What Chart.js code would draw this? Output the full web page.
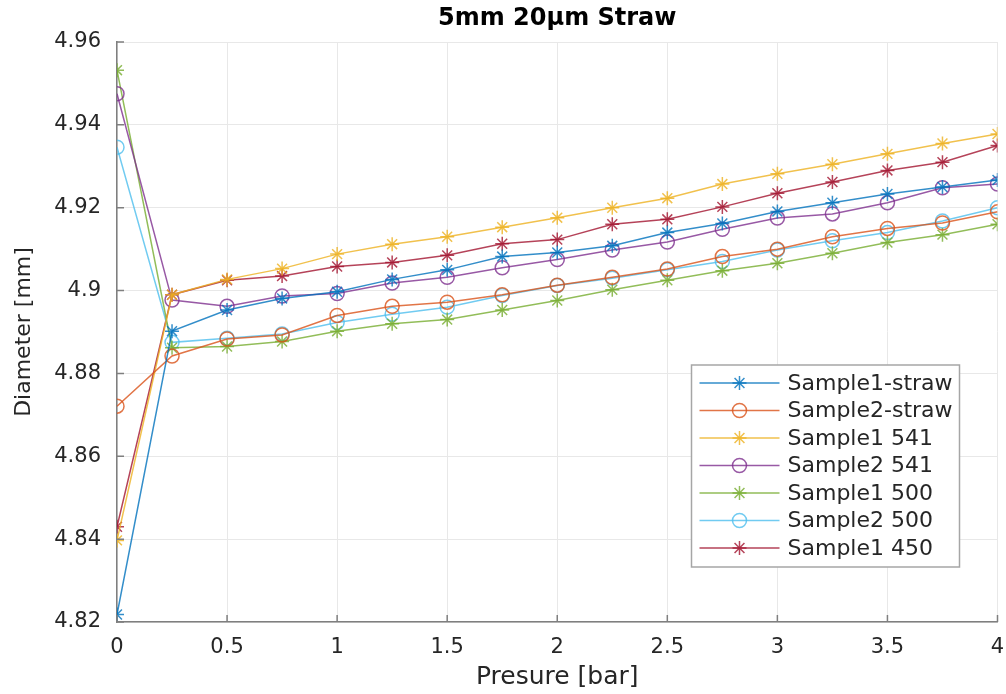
<!DOCTYPE html>
<html>
<head>
<meta charset="utf-8">
<script src="https://cdn.jsdelivr.net/npm/chart.js@4.4.1/dist/chart.umd.min.js"></script>
<style>
html,body{margin:0;padding:0;background:#fff;}
#wrap{width:1006px;height:694px;position:relative;}
</style>
</head>
<body>
<div id="wrap"><canvas id="c" width="1006" height="694"></canvas></div>
<script>
const chartTitle = '5mm 20µm Straw';
const xAxisTitle = 'Presure [bar]';
const yAxisTitle = 'Diameter [mm]';

const pressures = [0, 0.25, 0.5, 0.75, 1, 1.25, 1.5, 1.75, 2, 2.25, 2.5, 2.75, 3, 3.25, 3.5, 3.75, 4];
const xTickValues = [0, 0.5, 1, 1.5, 2, 2.5, 3, 3.5, 4];
const yTickValues = [4.82, 4.84, 4.86, 4.88, 4.9, 4.92, 4.94, 4.96];

const seriesNames = ['Sample1-straw', 'Sample2-straw', 'Sample1 541', 'Sample2 541', 'Sample1 500', 'Sample2 500', 'Sample1 450'];

const sample1Straw = [4.8218, 4.8902, 4.8953, 4.8981, 4.8997, 4.9027, 4.9050, 4.9082, 4.9092, 4.9108, 4.9140, 4.9162, 4.9191, 4.9212, 4.9233, 4.9250, 4.9267];
const sample2Straw = [4.8721, 4.8842, 4.8883, 4.8893, 4.8940, 4.8962, 4.8972, 4.8990, 4.9013, 4.9032, 4.9052, 4.9082, 4.9100, 4.9130, 4.9150, 4.9163, 4.9190];
const sample1_541 = [4.8397, 4.8990, 4.9027, 4.9053, 4.9088, 4.9112, 4.9130, 4.9153, 4.9176, 4.9200, 4.9223, 4.9257, 4.9282, 4.9305, 4.9330, 4.9355, 4.9378];
const sample2_541 = [4.9475, 4.8977, 4.8962, 4.8987, 4.8993, 4.9018, 4.9032, 4.9055, 4.9075, 4.9098, 4.9117, 4.9148, 4.9175, 4.9185, 4.9212, 4.9248, 4.9257];
const sample1_500 = [4.9532, 4.8862, 4.8865, 4.8877, 4.8902, 4.8920, 4.8930, 4.8953, 4.8976, 4.9002, 4.9025, 4.9048, 4.9066, 4.9090, 4.9116, 4.9135, 4.9160];
const sample2_500 = [4.9346, 4.8875, 4.8885, 4.8895, 4.8923, 4.8943, 4.8960, 4.8988, 4.9012, 4.9030, 4.9050, 4.9070, 4.9098, 4.9120, 4.9140, 4.9168, 4.9200];
const sample1_450 = [4.8430, 4.8990, 4.9025, 4.9035, 4.9058, 4.9068, 4.9085, 4.9113, 4.9123, 4.9160, 4.9172, 4.9202, 4.9235, 4.9262, 4.9290, 4.9310, 4.9350];

const seriesValues = [sample1Straw, sample2Straw, sample1_541, sample2_541, sample1_500, sample2_500, sample1_450];
const seriesColors = ['rgba(0,114,189,0.8)', 'rgba(217,83,25,0.8)', 'rgba(237,177,32,0.8)', 'rgba(126,47,142,0.8)', 'rgba(119,172,48,0.8)', 'rgba(77,190,238,0.8)', 'rgba(162,20,47,0.8)'];
const seriesMarkers = ['star', 'circle', 'star', 'circle', 'star', 'circle', 'star'];

const FONT = "'DejaVu Sans', sans-serif";
const AXIS_COLOR = '#7f7f7f';
const TEXT_COLOR = '#262626';

const datasets = seriesNames.map((name, i) => ({
  label: name,
  data: pressures.map((p, j) => ({x: p, y: seriesValues[i][j]})),
  borderColor: seriesColors[i],
  backgroundColor: 'rgba(0,0,0,0)',
  pointBorderColor: seriesColors[i],
  pointBackgroundColor: 'rgba(0,0,0,0)',
  pointStyle: seriesMarkers[i],
  pointRadius: 7,
  pointBorderWidth: 1.5,
  borderWidth: 1.5,
  tension: 0,
  fill: false
}));

const titlePlugin = {
  id: 'centeredTitle',
  afterDraw(chart) {
    const ctx = chart.ctx, a = chart.chartArea;
    ctx.save();
    ctx.font = 'bold 24px ' + FONT;
    ctx.fillStyle = '#000';
    ctx.textAlign = 'center';
    ctx.textBaseline = 'middle';
    ctx.fillText(chartTitle, (a.left + a.right) / 2, 19);
    ctx.restore();
  }
};

const inwardTicks = {
  id: 'inwardTicks',
  afterDraw(chart) {
    const ctx = chart.ctx, a = chart.chartArea;
    const xs = chart.scales.x, ys = chart.scales.y;
    ctx.save();
    ctx.strokeStyle = AXIS_COLOR;
    ctx.lineWidth = 1.5;
    ctx.beginPath();
    xs.ticks.forEach(t => {
      const px = xs.getPixelForValue(t.value);
      ctx.moveTo(px, a.bottom);
      ctx.lineTo(px, a.bottom - 7);
    });
    ys.ticks.forEach(t => {
      const py = ys.getPixelForValue(t.value);
      ctx.moveTo(a.left, py);
      ctx.lineTo(a.left + 7, py);
    });
    ctx.stroke();
    ctx.restore();
  }
};

const insideLegend = {
  id: 'insideLegend',
  afterDraw(chart) {
    const ctx = chart.ctx, a = chart.chartArea;
    const boxRight = a.right - 38, boxBottom = a.bottom - 55;
    const boxW = 268, boxH = 202;
    const boxL = boxRight - boxW, boxT = boxBottom - boxH;
    ctx.save();
    ctx.fillStyle = '#fff';
    ctx.fillRect(boxL, boxT, boxW, boxH);
    ctx.strokeStyle = '#a6a6a6';
    ctx.lineWidth = 1.5;
    ctx.strokeRect(boxL, boxT, boxW, boxH);
    ctx.font = '22px ' + FONT;
    ctx.textAlign = 'left';
    ctx.textBaseline = 'middle';
    chart.data.datasets.forEach((ds, i) => {
      const y = boxT + 18 + i * 27.5;
      ctx.strokeStyle = ds.borderColor;
      ctx.lineWidth = 1.5;
      ctx.beginPath();
      ctx.moveTo(boxL + 8, y);
      ctx.lineTo(boxL + 88, y);
      ctx.stroke();
      ctx.fillStyle = 'rgba(0,0,0,0)';
      ctx.strokeStyle = ds.pointBorderColor;
      Chart.helpers.drawPoint(ctx, {pointStyle: ds.pointStyle, radius: 7, rotation: 0, borderWidth: 1.5}, boxL + 48, y);
      ctx.fillStyle = TEXT_COLOR;
      ctx.fillText(ds.label, boxL + 96, y + 1);
    });
    ctx.restore();
  }
};

new Chart(document.getElementById('c'), {
  type: 'line',
  data: {datasets},
  plugins: [titlePlugin, inwardTicks, insideLegend],
  options: {
    responsive: false,
    animation: false,
    devicePixelRatio: 1,
    layout: {padding: {left: 0, right: 8, top: 42, bottom: 0}},
    plugins: {legend: {display: false}, title: {display: false}, tooltip: {enabled: false}},
    scales: {
      x: {
        type: 'linear', min: 0, max: 4,
        afterBuildTicks: s => { s.ticks = xTickValues.map(v => ({value: v})); },
        afterFit: s => { s.height = 72; s.paddingRight = 0; s.paddingLeft = 0; },
        ticks: {font: {family: FONT, size: 21}, color: TEXT_COLOR, padding: 13, maxRotation: 0, callback: v => String(v)},
        grid: {color: '#e8e8e8', lineWidth: 1, drawTicks: false},
        border: {display: true, color: AXIS_COLOR, width: 1.5},
        title: {display: true, text: xAxisTitle, font: {family: FONT, size: 25}, color: TEXT_COLOR, padding: {top: 0, bottom: 2}}
      },
      y: {
        type: 'linear', min: 4.82, max: 4.96,
        afterBuildTicks: s => { s.ticks = yTickValues.map(v => ({value: v})); },
        afterFit: s => { s.width = 117; s.paddingTop = 0; s.paddingBottom = 0; },
        ticks: {font: {family: FONT, size: 21}, color: TEXT_COLOR, padding: 16, callback: v => String(Number(v.toFixed(2)))},
        grid: {color: '#e8e8e8', lineWidth: 1, drawTicks: false},
        border: {display: true, color: AXIS_COLOR, width: 1.5},
        title: {display: true, text: yAxisTitle, font: {family: FONT, size: 22}, color: TEXT_COLOR, padding: {top: 11, bottom: 0}}
      }
    }
  }
});
</script>
</body>
</html>
